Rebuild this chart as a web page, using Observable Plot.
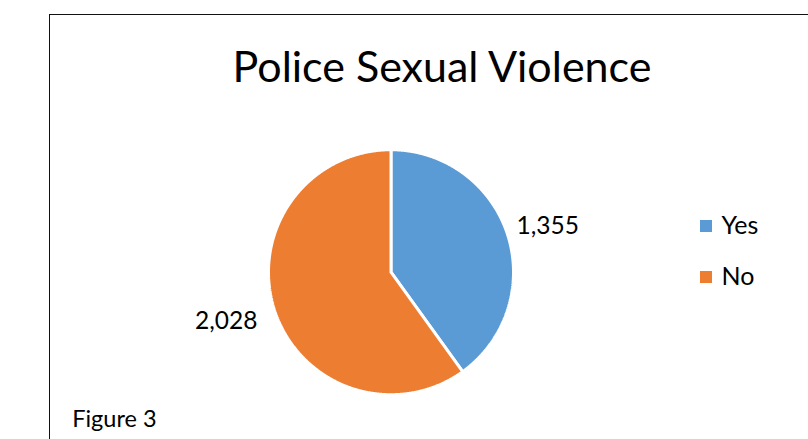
<!DOCTYPE html>
<html><head><meta charset="utf-8">
<script src="https://cdn.jsdelivr.net/npm/d3@7"></script>
<script src="https://cdn.jsdelivr.net/npm/@observablehq/plot@0.6"></script>
<style>
html,body{margin:0;padding:0;background:#fff;overflow:hidden;width:808px;height:439px;}
#wrap{position:relative;width:808px;height:439px;overflow:hidden;}
#frame{position:absolute;left:48.7px;top:14.2px;width:900px;height:600px;border:1.9px solid #111;box-sizing:border-box;}
#chart{position:absolute;left:0;top:0;}
.lg-sw{position:absolute;width:12px;height:11.5px;}
.lg-tx{position:absolute;font-family:Lato,sans-serif;font-size:25px;line-height:25px;color:#000;white-space:nowrap;}
</style></head>
<body><div id="wrap"><div id="frame"></div><div id="chart"></div></div>
<script>
const categories = ["Yes", "No"];
const values = [1355, 2028];
const valueLabels = ["1,355", "2,028"];
const colors = ["#5B9BD5", "#ED7D31"];
const titleText = "Police Sexual Violence";
const captionText = "Figure 3";

const cx = 390.5, cy = 271.7, R = 122.5;

const arcs = d3.pie().sort(null).value(d => d)(values);
const pts = [];
arcs.forEach((a, i) => {
  const n = Math.max(2, Math.ceil((a.endAngle - a.startAngle) / 0.005));
  pts.push({cat: categories[i], x: 0, y: 0});
  for (let k = 0; k <= n; k++) {
    const t = a.startAngle + (a.endAngle - a.startAngle) * k / n;
    pts.push({cat: categories[i], x: Math.sin(t), y: Math.cos(t)});
  }
  pts.push({cat: categories[i], x: 0, y: 0});
});
const labelData = arcs.map((a, i) => {
  const m = (a.startAngle + a.endAngle) / 2;
  return {x: Math.sin(m), y: Math.cos(m), text: valueLabels[i], right: Math.sin(m) >= 0};
});

const font = "Lato, sans-serif";
const chart = Plot.plot({
  width: 808, height: 439,
  marginLeft: 0, marginRight: 0, marginTop: 0, marginBottom: 0,
  x: {domain: [-1, 1], range: [cx - R, cx + R], axis: null},
  y: {domain: [-1, 1], range: [cy + R, cy - R], axis: null},
  color: {domain: categories, range: colors},
  style: {background: "transparent", fontFamily: font},
  marks: [
    Plot.line(pts, {x: "x", y: "y", z: "cat", fill: "cat", stroke: "white", strokeWidth: 3, strokeLinejoin: "miter", curve: "linear"}),
    Plot.text(labelData.filter(d => d.right), {x: "x", y: "y", text: "text", textAnchor: "start", dx: 9, dy: -8, fontSize: 24.5, fill: "#000", fontFamily: font}),
    Plot.text(labelData.filter(d => !d.right), {x: "x", y: "y", text: "text", textAnchor: "end", dx: -17, dy: 11, fontSize: 24.5, fill: "#000", fontFamily: font}),
    Plot.text([titleText], {frameAnchor: "top-left", text: d => d, dx: 441.5, dy: 50.5, lineAnchor: "top", textAnchor: "middle", fontSize: 43, fill: "#000", fontFamily: font}),
    Plot.text([captionText], {frameAnchor: "top-left", text: d => d, dx: 71.7, dy: 410, lineAnchor: "top", textAnchor: "start", fontSize: 23.5, fill: "#000", fontFamily: font})
  ]
});
document.getElementById("chart").appendChild(chart);

const wrap = document.getElementById("wrap");
const rowTops = [220, 271.3];
categories.forEach((c, i) => {
  const sw = document.createElement("div");
  sw.className = "lg-sw";
  sw.style.left = "700px";
  sw.style.top = rowTops[i] + "px";
  sw.style.background = colors[i];
  wrap.appendChild(sw);
  const tx = document.createElement("div");
  tx.className = "lg-tx";
  tx.style.left = "721.5px";
  tx.style.top = (rowTops[i] - 8.5) + "px";
  tx.textContent = c;
  wrap.appendChild(tx);
});
</script></body></html>
